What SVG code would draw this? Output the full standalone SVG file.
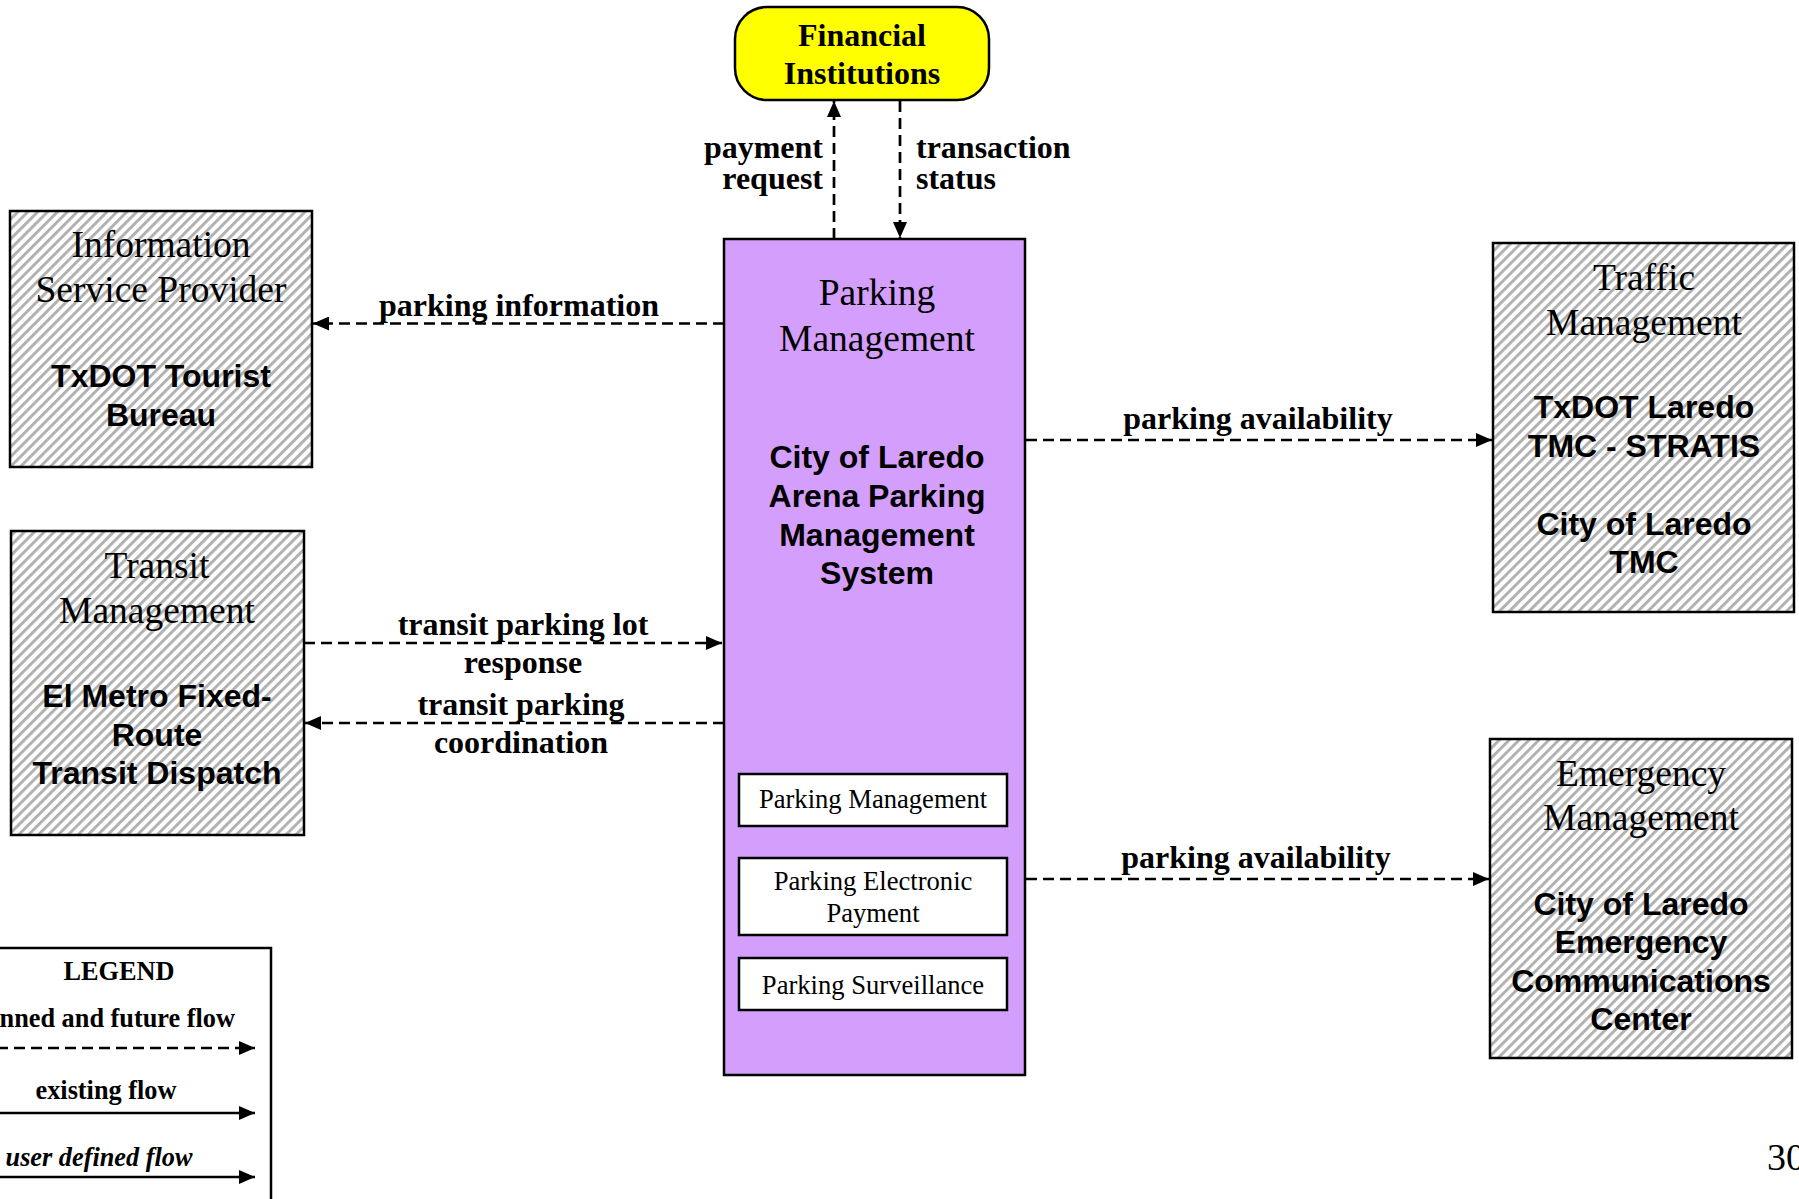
<svg xmlns="http://www.w3.org/2000/svg" width="1799" height="1199" viewBox="0 0 1799 1199">
<style>
.box{stroke:#000;stroke-width:2.5}
.title{font-family:"Liberation Serif",serif;font-size:37.5px;text-anchor:middle;fill:#000}
.name{font-family:"Liberation Sans",Arial,sans-serif;font-weight:bold;font-size:32px;text-anchor:middle;fill:#000}
.lbl{font-family:"Liberation Serif",serif;font-weight:bold;font-size:32px;fill:#000}
.sub{font-family:"Liberation Serif",serif;font-size:26.6px;text-anchor:middle;fill:#000}
.leg{font-family:"Liberation Serif",serif;font-weight:bold;font-size:26.3px;text-anchor:middle;fill:#000}
.flow{fill:none;stroke:#000;stroke-width:2.7;stroke-dasharray:11 6;marker-end:url(#ah)}
.solid{fill:none;stroke:#000;stroke-width:2.7;marker-end:url(#ah)}
</style>
<defs>
<pattern id="hatch" patternUnits="userSpaceOnUse" width="7" height="10" patternTransform="rotate(45)">
<rect width="7" height="10" fill="#ffffff"/>
<rect width="2.9" height="10" fill="#b0b0b0"/>
</pattern>
<marker id="ah" viewBox="0 0 16 14" refX="16" refY="7" markerWidth="16" markerHeight="14" markerUnits="userSpaceOnUse" orient="auto">
<path d="M0,0 L16,7 L0,14 Z" fill="#000"/>
</marker>
</defs>
<rect width="1799" height="1199" fill="#fff"/>

<g id="financial-institutions">
<rect class="box" x="735" y="7" width="254" height="93" rx="32" ry="32" fill="#ffff00"/>
<text class="lbl" x="862" y="46" text-anchor="middle">Financial</text>
<text class="lbl" x="862" y="84" text-anchor="middle">Institutions</text>
</g>

<g id="information-service-provider">
<rect class="box" x="10" y="211" width="302" height="256" fill="url(#hatch)"/>
<text class="title" x="161" y="257">Information</text>
<text class="title" x="161" y="302">Service Provider</text>
<text class="name" x="161" y="387">TxDOT Tourist</text>
<text class="name" x="161" y="426">Bureau</text>
</g>

<g id="transit-management">
<rect class="box" x="11" y="531" width="293" height="304" fill="url(#hatch)"/>
<text class="title" x="157" y="578">Transit</text>
<text class="title" x="157" y="623">Management</text>
<text class="name" x="157" y="707">El Metro Fixed-</text>
<text class="name" x="157" y="746">Route</text>
<text class="name" x="157" y="784">Transit Dispatch</text>
</g>

<g id="parking-management">
<rect class="box" x="724" y="239" width="301" height="836" fill="#d49ffc"/>
<text class="title" x="877" y="305">Parking</text>
<text class="title" x="877" y="351">Management</text>
<text class="name" x="877" y="468">City of Laredo</text>
<text class="name" x="877" y="507">Arena Parking</text>
<text class="name" x="877" y="546">Management</text>
<text class="name" x="877" y="584">System</text>
<rect class="box" x="739" y="774" width="268" height="52" fill="#fff"/>
<text class="sub" x="873" y="808">Parking Management</text>
<rect class="box" x="739" y="858" width="268" height="77" fill="#fff"/>
<text class="sub" x="873" y="890">Parking Electronic</text>
<text class="sub" x="873" y="922">Payment</text>
<rect class="box" x="739" y="958" width="268" height="52" fill="#fff"/>
<text class="sub" x="873" y="994">Parking Surveillance</text>
</g>

<g id="traffic-management">
<rect class="box" x="1493" y="243" width="301" height="369" fill="url(#hatch)"/>
<text class="title" x="1644" y="290">Traffic</text>
<text class="title" x="1644" y="335">Management</text>
<text class="name" x="1644" y="418">TxDOT Laredo</text>
<text class="name" x="1644" y="457">TMC - STRATIS</text>
<text class="name" x="1644" y="535">City of Laredo</text>
<text class="name" x="1644" y="573">TMC</text>
</g>

<g id="emergency-management">
<rect class="box" x="1490" y="739" width="302" height="319" fill="url(#hatch)"/>
<text class="title" x="1641" y="786">Emergency</text>
<text class="title" x="1641" y="830">Management</text>
<text class="name" x="1641" y="915">City of Laredo</text>
<text class="name" x="1641" y="953">Emergency</text>
<text class="name" x="1641" y="992">Communications</text>
<text class="name" x="1641" y="1030">Center</text>
</g>

<g id="connectors">
<line class="flow" x1="834" y1="239" x2="834" y2="101"/>
<line class="flow" x1="900" y1="101" x2="900" y2="238"/>
<line class="flow" x1="724" y1="323.5" x2="313" y2="323.5"/>
<line class="flow" x1="304" y1="643" x2="722" y2="643"/>
<line class="flow" x1="724" y1="723" x2="305" y2="723"/>
<line class="flow" x1="1026" y1="440" x2="1492" y2="440"/>
<line class="flow" x1="1026" y1="879" x2="1489" y2="879"/>
<text class="lbl" x="823" y="158" text-anchor="end">payment</text>
<text class="lbl" x="823" y="189" text-anchor="end">request</text>
<text class="lbl" x="916" y="158">transaction</text>
<text class="lbl" x="916" y="189">status</text>
<text class="lbl" x="519" y="316" text-anchor="middle">parking information</text>
<text class="lbl" x="523" y="635" text-anchor="middle">transit parking lot</text>
<text class="lbl" x="523" y="673" text-anchor="middle">response</text>
<text class="lbl" x="521" y="715" text-anchor="middle">transit parking</text>
<text class="lbl" x="521" y="753" text-anchor="middle">coordination</text>
<text class="lbl" x="1258" y="429" text-anchor="middle">parking availability</text>
<text class="lbl" x="1256" y="868" text-anchor="middle">parking availability</text>
</g>

<g id="legend">
<rect class="box" x="-20" y="948" width="291" height="280" fill="#fff"/>
<text class="leg" x="119" y="980">LEGEND</text>
<text class="leg" x="99" y="1027">Planned and future flow</text>
<line class="flow" x1="-20" y1="1048" x2="255" y2="1048"/>
<text class="leg" x="106" y="1099">existing flow</text>
<line class="solid" x1="-20" y1="1113" x2="255" y2="1113"/>
<text class="leg" x="99" y="1166" font-style="italic">user defined flow</text>
<line class="solid" x1="-20" y1="1177" x2="255" y2="1177"/>
</g>

<text x="1767" y="1170" font-family="Liberation Serif, serif" font-size="38">30</text>
</svg>
